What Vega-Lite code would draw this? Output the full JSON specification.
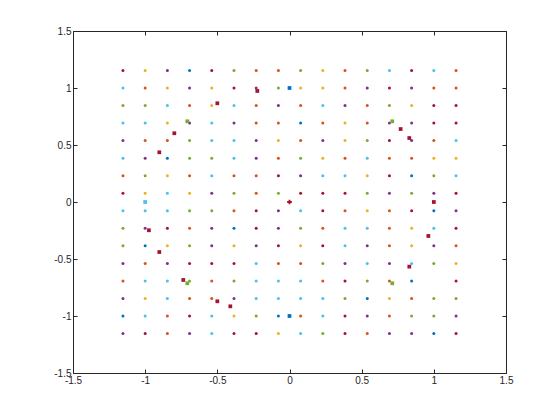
{
  "$schema": "https://vega.github.io/schema/vega-lite/v6.json",
  "width": 433,
  "height": 342,
  "autosize": {"type": "none"},
  "padding": {"left": 73, "top": 31, "right": 54, "bottom": 47},
  "background": "white",
  "config": {
    "view": {"stroke": "#262626", "strokeWidth": 1},
    "axis": {
      "domain": false, "grid": false, "tickSize": -4, "tickColor": "#262626", "tickWidth": 1,
      "labelColor": "#262626", "labelFont": "Liberation Sans", "labelFontSize": 10,
      "labelFlush": false, "labelOverlap": false, "title": null
    }
  },
  "datasets": {
    "grid": [
      {"x":-1.1538,"y":1.1538,"c":"R"},{"x":-1.0,"y":1.1538,"c":"Y"},{"x":-0.8462,"y":1.1538,"c":"P"},{"x":-0.6923,"y":1.1538,"c":"B"},{"x":-0.5385,"y":1.1538,"c":"R"},{"x":-0.3846,"y":1.1538,"c":"G"},{"x":-0.2308,"y":1.1538,"c":"O"},{"x":-0.0769,"y":1.1538,"c":"O"},{"x":0.0769,"y":1.1538,"c":"G"},{"x":0.2308,"y":1.1538,"c":"Y"},{"x":0.3846,"y":1.1538,"c":"O"},{"x":0.5385,"y":1.1538,"c":"G"},{"x":0.6923,"y":1.1538,"c":"C"},{"x":0.8462,"y":1.1538,"c":"R"},{"x":1.0,"y":1.1538,"c":"C"},{"x":1.1538,"y":1.1538,"c":"O"},
      {"x":-1.1538,"y":1.0,"c":"C"},{"x":-1.0,"y":1.0,"c":"O"},{"x":-0.8462,"y":1.0,"c":"Y"},{"x":-0.6923,"y":1.0,"c":"P"},{"x":-0.5385,"y":1.0,"c":"Y"},{"x":-0.3846,"y":1.0,"c":"R"},{"x":-0.2308,"y":1.0,"c":"P"},{"x":-0.0769,"y":1.0,"c":"G"},{"x":0.0769,"y":1.0,"c":"Y"},{"x":0.2308,"y":1.0,"c":"Y"},{"x":0.3846,"y":1.0,"c":"O"},{"x":0.5385,"y":1.0,"c":"P"},{"x":0.6923,"y":1.0,"c":"R"},{"x":0.8462,"y":1.0,"c":"P"},{"x":1.0,"y":1.0,"c":"O"},{"x":1.1538,"y":1.0,"c":"O"},
      {"x":-1.1538,"y":0.8462,"c":"G"},{"x":-1.0,"y":0.8462,"c":"G"},{"x":-0.8462,"y":0.8462,"c":"C"},{"x":-0.6923,"y":0.8462,"c":"O"},{"x":-0.5385,"y":0.8462,"c":"Y"},{"x":-0.3846,"y":0.8462,"c":"C"},{"x":-0.2308,"y":0.8462,"c":"O"},{"x":-0.0769,"y":0.8462,"c":"P"},{"x":0.0769,"y":0.8462,"c":"O"},{"x":0.2308,"y":0.8462,"c":"C"},{"x":0.3846,"y":0.8462,"c":"P"},{"x":0.5385,"y":0.8462,"c":"O"},{"x":0.6923,"y":0.8462,"c":"G"},{"x":0.8462,"y":0.8462,"c":"Y"},{"x":1.0,"y":0.8462,"c":"R"},{"x":1.1538,"y":0.8462,"c":"R"},
      {"x":-1.1538,"y":0.6923,"c":"C"},{"x":-1.0,"y":0.6923,"c":"C"},{"x":-0.8462,"y":0.6923,"c":"Y"},{"x":-0.6923,"y":0.6923,"c":"P"},{"x":-0.5385,"y":0.6923,"c":"C"},{"x":-0.3846,"y":0.6923,"c":"P"},{"x":-0.2308,"y":0.6923,"c":"O"},{"x":-0.0769,"y":0.6923,"c":"O"},{"x":0.0769,"y":0.6923,"c":"B"},{"x":0.2308,"y":0.6923,"c":"O"},{"x":0.3846,"y":0.6923,"c":"Y"},{"x":0.5385,"y":0.6923,"c":"O"},{"x":0.6923,"y":0.6923,"c":"P"},{"x":0.8462,"y":0.6923,"c":"P"},{"x":1.0,"y":0.6923,"c":"R"},{"x":1.1538,"y":0.6923,"c":"R"},
      {"x":-1.1538,"y":0.5385,"c":"P"},{"x":-1.0,"y":0.5385,"c":"O"},{"x":-0.8462,"y":0.5385,"c":"O"},{"x":-0.6923,"y":0.5385,"c":"G"},{"x":-0.5385,"y":0.5385,"c":"C"},{"x":-0.3846,"y":0.5385,"c":"C"},{"x":-0.2308,"y":0.5385,"c":"P"},{"x":-0.0769,"y":0.5385,"c":"Y"},{"x":0.0769,"y":0.5385,"c":"O"},{"x":0.2308,"y":0.5385,"c":"P"},{"x":0.3846,"y":0.5385,"c":"Y"},{"x":0.5385,"y":0.5385,"c":"G"},{"x":0.6923,"y":0.5385,"c":"R"},{"x":0.8462,"y":0.5385,"c":"P"},{"x":1.0,"y":0.5385,"c":"O"},{"x":1.1538,"y":0.5385,"c":"C"},
      {"x":-1.1538,"y":0.3846,"c":"C"},{"x":-1.0,"y":0.3846,"c":"P"},{"x":-0.8462,"y":0.3846,"c":"B"},{"x":-0.6923,"y":0.3846,"c":"G"},{"x":-0.5385,"y":0.3846,"c":"G"},{"x":-0.3846,"y":0.3846,"c":"C"},{"x":-0.2308,"y":0.3846,"c":"P"},{"x":-0.0769,"y":0.3846,"c":"O"},{"x":0.0769,"y":0.3846,"c":"G"},{"x":0.2308,"y":0.3846,"c":"Y"},{"x":0.3846,"y":0.3846,"c":"O"},{"x":0.5385,"y":0.3846,"c":"C"},{"x":0.6923,"y":0.3846,"c":"O"},{"x":0.8462,"y":0.3846,"c":"O"},{"x":1.0,"y":0.3846,"c":"Y"},{"x":1.1538,"y":0.3846,"c":"Y"},
      {"x":-1.1538,"y":0.2308,"c":"O"},{"x":-1.0,"y":0.2308,"c":"G"},{"x":-0.8462,"y":0.2308,"c":"Y"},{"x":-0.6923,"y":0.2308,"c":"O"},{"x":-0.5385,"y":0.2308,"c":"C"},{"x":-0.3846,"y":0.2308,"c":"O"},{"x":-0.2308,"y":0.2308,"c":"O"},{"x":-0.0769,"y":0.2308,"c":"R"},{"x":0.0769,"y":0.2308,"c":"P"},{"x":0.2308,"y":0.2308,"c":"C"},{"x":0.3846,"y":0.2308,"c":"C"},{"x":0.5385,"y":0.2308,"c":"Y"},{"x":0.6923,"y":0.2308,"c":"R"},{"x":0.8462,"y":0.2308,"c":"B"},{"x":1.0,"y":0.2308,"c":"G"},{"x":1.1538,"y":0.2308,"c":"C"},
      {"x":-1.1538,"y":0.0769,"c":"R"},{"x":-1.0,"y":0.0769,"c":"Y"},{"x":-0.8462,"y":0.0769,"c":"C"},{"x":-0.6923,"y":0.0769,"c":"Y"},{"x":-0.5385,"y":0.0769,"c":"P"},{"x":-0.3846,"y":0.0769,"c":"G"},{"x":-0.2308,"y":0.0769,"c":"O"},{"x":-0.0769,"y":0.0769,"c":"G"},{"x":0.0769,"y":0.0769,"c":"R"},{"x":0.2308,"y":0.0769,"c":"R"},{"x":0.3846,"y":0.0769,"c":"R"},{"x":0.5385,"y":0.0769,"c":"G"},{"x":0.6923,"y":0.0769,"c":"P"},{"x":0.8462,"y":0.0769,"c":"G"},{"x":1.0,"y":0.0769,"c":"P"},{"x":1.1538,"y":0.0769,"c":"R"},
      {"x":-1.1538,"y":-0.0769,"c":"C"},{"x":-1.0,"y":-0.0769,"c":"C"},{"x":-0.8462,"y":-0.0769,"c":"C"},{"x":-0.6923,"y":-0.0769,"c":"G"},{"x":-0.5385,"y":-0.0769,"c":"G"},{"x":-0.3846,"y":-0.0769,"c":"O"},{"x":-0.2308,"y":-0.0769,"c":"R"},{"x":-0.0769,"y":-0.0769,"c":"P"},{"x":0.0769,"y":-0.0769,"c":"C"},{"x":0.2308,"y":-0.0769,"c":"R"},{"x":0.3846,"y":-0.0769,"c":"O"},{"x":0.5385,"y":-0.0769,"c":"Y"},{"x":0.6923,"y":-0.0769,"c":"O"},{"x":0.8462,"y":-0.0769,"c":"R"},{"x":1.0,"y":-0.0769,"c":"B"},{"x":1.1538,"y":-0.0769,"c":"P"},
      {"x":-1.1538,"y":-0.2308,"c":"G"},{"x":-1.0,"y":-0.2308,"c":"P"},{"x":-0.8462,"y":-0.2308,"c":"R"},{"x":-0.6923,"y":-0.2308,"c":"O"},{"x":-0.5385,"y":-0.2308,"c":"P"},{"x":-0.3846,"y":-0.2308,"c":"B"},{"x":-0.2308,"y":-0.2308,"c":"R"},{"x":-0.0769,"y":-0.2308,"c":"P"},{"x":0.0769,"y":-0.2308,"c":"G"},{"x":0.2308,"y":-0.2308,"c":"O"},{"x":0.3846,"y":-0.2308,"c":"C"},{"x":0.5385,"y":-0.2308,"c":"C"},{"x":0.6923,"y":-0.2308,"c":"O"},{"x":0.8462,"y":-0.2308,"c":"Y"},{"x":1.0,"y":-0.2308,"c":"C"},{"x":1.1538,"y":-0.2308,"c":"R"},
      {"x":-1.1538,"y":-0.3846,"c":"G"},{"x":-1.0,"y":-0.3846,"c":"B"},{"x":-0.8462,"y":-0.3846,"c":"Y"},{"x":-0.6923,"y":-0.3846,"c":"G"},{"x":-0.5385,"y":-0.3846,"c":"P"},{"x":-0.3846,"y":-0.3846,"c":"Y"},{"x":-0.2308,"y":-0.3846,"c":"P"},{"x":-0.0769,"y":-0.3846,"c":"R"},{"x":0.0769,"y":-0.3846,"c":"Y"},{"x":0.2308,"y":-0.3846,"c":"R"},{"x":0.3846,"y":-0.3846,"c":"C"},{"x":0.5385,"y":-0.3846,"c":"P"},{"x":0.6923,"y":-0.3846,"c":"O"},{"x":0.8462,"y":-0.3846,"c":"Y"},{"x":1.0,"y":-0.3846,"c":"P"},{"x":1.1538,"y":-0.3846,"c":"O"},
      {"x":-1.1538,"y":-0.5385,"c":"P"},{"x":-1.0,"y":-0.5385,"c":"O"},{"x":-0.8462,"y":-0.5385,"c":"P"},{"x":-0.6923,"y":-0.5385,"c":"R"},{"x":-0.5385,"y":-0.5385,"c":"R"},{"x":-0.3846,"y":-0.5385,"c":"R"},{"x":-0.2308,"y":-0.5385,"c":"C"},{"x":-0.0769,"y":-0.5385,"c":"O"},{"x":0.0769,"y":-0.5385,"c":"O"},{"x":0.2308,"y":-0.5385,"c":"G"},{"x":0.3846,"y":-0.5385,"c":"P"},{"x":0.5385,"y":-0.5385,"c":"C"},{"x":0.6923,"y":-0.5385,"c":"P"},{"x":0.8462,"y":-0.5385,"c":"C"},{"x":1.0,"y":-0.5385,"c":"G"},{"x":1.1538,"y":-0.5385,"c":"Y"},
      {"x":-1.1538,"y":-0.6923,"c":"O"},{"x":-1.0,"y":-0.6923,"c":"C"},{"x":-0.8462,"y":-0.6923,"c":"C"},{"x":-0.6923,"y":-0.6923,"c":"G"},{"x":-0.5385,"y":-0.6923,"c":"O"},{"x":-0.3846,"y":-0.6923,"c":"G"},{"x":-0.2308,"y":-0.6923,"c":"C"},{"x":-0.0769,"y":-0.6923,"c":"C"},{"x":0.0769,"y":-0.6923,"c":"C"},{"x":0.2308,"y":-0.6923,"c":"O"},{"x":0.3846,"y":-0.6923,"c":"R"},{"x":0.5385,"y":-0.6923,"c":"G"},{"x":0.6923,"y":-0.6923,"c":"O"},{"x":0.8462,"y":-0.6923,"c":"B"},{"x":1.1538,"y":-0.6923,"c":"R"},
      {"x":-1.1538,"y":-0.8462,"c":"P"},{"x":-1.0,"y":-0.8462,"c":"Y"},{"x":-0.8462,"y":-0.8462,"c":"C"},{"x":-0.6923,"y":-0.8462,"c":"O"},{"x":-0.5385,"y":-0.8462,"c":"O"},{"x":-0.3846,"y":-0.8462,"c":"P"},{"x":-0.2308,"y":-0.8462,"c":"C"},{"x":-0.0769,"y":-0.8462,"c":"C"},{"x":0.0769,"y":-0.8462,"c":"C"},{"x":0.2308,"y":-0.8462,"c":"C"},{"x":0.3846,"y":-0.8462,"c":"G"},{"x":0.5385,"y":-0.8462,"c":"B"},{"x":0.6923,"y":-0.8462,"c":"Y"},{"x":0.8462,"y":-0.8462,"c":"O"},{"x":1.0,"y":-0.8462,"c":"G"},{"x":1.1538,"y":-0.8462,"c":"G"},
      {"x":-1.1538,"y":-1.0,"c":"B"},{"x":-1.0,"y":-1.0,"c":"C"},{"x":-0.8462,"y":-1.0,"c":"O"},{"x":-0.6923,"y":-1.0,"c":"R"},{"x":-0.5385,"y":-1.0,"c":"C"},{"x":-0.3846,"y":-1.0,"c":"Y"},{"x":-0.2308,"y":-1.0,"c":"G"},{"x":-0.0769,"y":-1.0,"c":"B"},{"x":0.0769,"y":-1.0,"c":"O"},{"x":0.2308,"y":-1.0,"c":"C"},{"x":0.3846,"y":-1.0,"c":"R"},{"x":0.5385,"y":-1.0,"c":"P"},{"x":0.6923,"y":-1.0,"c":"O"},{"x":0.8462,"y":-1.0,"c":"G"},{"x":1.0,"y":-1.0,"c":"G"},{"x":1.1538,"y":-1.0,"c":"P"},
      {"x":-1.1538,"y":-1.1538,"c":"P"},{"x":-1.0,"y":-1.1538,"c":"R"},{"x":-0.8462,"y":-1.1538,"c":"O"},{"x":-0.6923,"y":-1.1538,"c":"P"},{"x":-0.5385,"y":-1.1538,"c":"C"},{"x":-0.3846,"y":-1.1538,"c":"R"},{"x":-0.2308,"y":-1.1538,"c":"R"},{"x":-0.0769,"y":-1.1538,"c":"Y"},{"x":0.0769,"y":-1.1538,"c":"C"},{"x":0.2308,"y":-1.1538,"c":"G"},{"x":0.3846,"y":-1.1538,"c":"R"},{"x":0.5385,"y":-1.1538,"c":"O"},{"x":0.6923,"y":-1.1538,"c":"P"},{"x":0.8462,"y":-1.1538,"c":"P"},{"x":1.0,"y":-1.1538,"c":"B"},{"x":1.1538,"y":-1.1538,"c":"R"}
    ],
    "extra": [
      {"x":-0.223,"y":0.974,"c":"R","m":"s"},
      {"x":0.0,"y":1.0,"c":"B","m":"s"},
      {"x":-0.5,"y":0.866,"c":"R","m":"s"},
      {"x":-0.708,"y":0.708,"c":"G","m":"s"},
      {"x":-0.798,"y":0.603,"c":"R","m":"s"},
      {"x":-0.902,"y":0.436,"c":"R","m":"s"},
      {"x":-1.0,"y":0.0,"c":"C","m":"s"},
      {"x":0.0,"y":0.0,"c":"R","m":"x"},
      {"x":0.712,"y":0.708,"c":"G","m":"s"},
      {"x":0.77,"y":0.64,"c":"R","m":"s"},
      {"x":0.83,"y":0.561,"c":"R","m":"s"},
      {"x":1.0,"y":0.0,"c":"R","m":"s"},
      {"x":-0.974,"y":-0.248,"c":"R","m":"s"},
      {"x":-0.902,"y":-0.439,"c":"R","m":"s"},
      {"x":-0.736,"y":-0.684,"c":"R","m":"s"},
      {"x":-0.708,"y":-0.713,"c":"G","m":"s"},
      {"x":-0.5,"y":-0.871,"c":"R","m":"s"},
      {"x":-0.41,"y":-0.915,"c":"R","m":"s"},
      {"x":0.0,"y":-1.0,"c":"B","m":"s"},
      {"x":0.962,"y":-0.298,"c":"R","m":"s"},
      {"x":0.83,"y":-0.567,"c":"R","m":"s"},
      {"x":0.712,"y":-0.713,"c":"G","m":"s"}
    ]
  },
  "resolve": {"axis": {"x": "independent", "y": "independent"}},
  "layer": [
    {
      "data": {"name": "grid"},
      "mark": {"type": "point", "shape": "circle", "filled": true, "size": 9, "opacity": 1},
      "encoding": {
        "x": {"field": "x", "type": "quantitative", "scale": {"domain": [-1.5, 1.5], "nice": false, "zero": false},
              "axis": {"orient": "bottom", "values": [-1.5, -1, -0.5, 0, 0.5, 1, 1.5], "labelExpr": "toString(datum.value)", "labelPadding": 6}},
        "y": {"field": "y", "type": "quantitative", "scale": {"domain": [-1.5, 1.5], "nice": false, "zero": false},
              "axis": {"orient": "left", "values": [-1.5, -1, -0.5, 0, 0.5, 1, 1.5], "labelExpr": "toString(datum.value)", "labelPadding": 6}},
        "color": {"field": "c", "type": "nominal", "legend": null,
                  "scale": {"domain": ["B", "O", "Y", "P", "G", "C", "R"], "range": ["#0072BD", "#D95319", "#EDB120", "#7E2F8E", "#77AC30", "#4DBEEE", "#A2142F"]}}
      }
    },
    {
      "data": {"name": "extra"},
      "mark": {"type": "point", "filled": true, "opacity": 1},
      "encoding": {
        "x": {"field": "x", "type": "quantitative",
              "axis": {"orient": "top", "values": [-1.5, -1, -0.5, 0, 0.5, 1, 1.5], "labels": false}},
        "y": {"field": "y", "type": "quantitative",
              "axis": {"orient": "right", "values": [-1.5, -1, -0.5, 0, 0.5, 1, 1.5], "labels": false}},
        "color": {"field": "c", "type": "nominal", "legend": null},
        "shape": {"field": "m", "type": "nominal", "legend": null, "scale": {"domain": ["s", "x"], "range": ["square", "cross"]}},
        "size": {"field": "m", "type": "nominal", "legend": null, "scale": {"domain": ["s", "x"], "range": [14, 22]}}
      }
    }
  ]
}
